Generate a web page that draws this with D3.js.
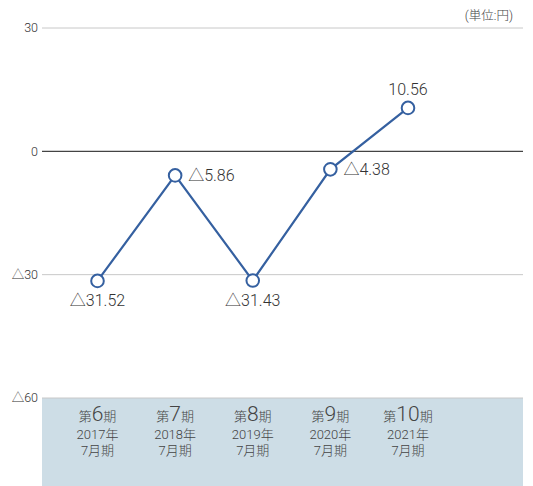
<!DOCTYPE html>
<html><head><meta charset="utf-8">
<script src="https://cdn.jsdelivr.net/npm/d3@7"></script>
<style>body{margin:0;background:#fff;}svg{display:block;font-family:Roboto,"Noto Sans CJK JP",sans-serif;font-weight:300;}</style>
</head><body>
<svg id="c" width="533" height="486"></svg>
<script>
const periods = ["第6期","第7期","第8期","第9期","第10期"];
const periodNums = ["6","7","8","9","10"];
const years = ["2017年","2018年","2019年","2020年","2021年"];
const months = ["7月期","7月期","7月期","7月期","7月期"];
const values = [-31.52, -5.86, -31.43, -4.38, 10.56];
const valueLabels = ["△31.52","△5.86","△31.43","△4.38","10.56"];
const labelPos = ["below","right","below","right","above"];
const yTicks = [30, 0, -30, -60];
const yTickLabels = ["30","0","△30","△60"];
const unitLabel = "(単位:円)";

const svg = d3.select("#c");
const left = 42, right = 523;
const y = d3.scaleLinear().domain([-60, 30]).range([398, 28]);
const xs = d3.scalePoint().domain(periods).range([97.5, 408]);

// band
svg.append("rect").attr("x", left).attr("y", y(-60)).attr("width", right-left).attr("height", 486 - y(-60)).attr("fill", "#cddde6");

// grid
yTicks.forEach((t,i)=>{
  svg.append("line").attr("x1", left).attr("x2", right).attr("y1", y(t)).attr("y2", y(t))
    .attr("stroke", t===0 ? "#444" : "#c8c8c8").attr("stroke-width", t===0?1.2:1);
  svg.append("text").attr("x", 38).attr("y", y(t)).attr("dy","0.35em").attr("text-anchor","end")
    .attr("font-size", 12.5).attr("fill","#333").text(yTickLabels[i]);
});

svg.append("text").attr("x", 513).attr("y", 20).attr("text-anchor","end").attr("font-size",12.5).attr("fill","#444").text(unitLabel);

// line
const line = d3.line().x((d,i)=>xs(periods[i])).y(d=>y(d));
svg.append("path").datum(values).attr("d", line).attr("fill","none").attr("stroke","#3560a0").attr("stroke-width",2.2);
svg.selectAll("circle.pt").data(values).join("circle").attr("cx",(d,i)=>xs(periods[i])).attr("cy",d=>y(d))
  .attr("r",6.3).attr("fill","#fff").attr("stroke","#3560a0").attr("stroke-width",2);

// value labels
values.forEach((v,i)=>{
  const t = svg.append("text").attr("font-size",16).attr("fill","#333").text(valueLabels[i]);
  const cx = xs(periods[i]), cy = y(v);
  if (labelPos[i]==="below") t.attr("x", cx).attr("y", cy+25).attr("text-anchor","middle");
  else if (labelPos[i]==="right") t.attr("x", cx+13).attr("y", cy+6).attr("text-anchor","start");
  else t.attr("x", cx).attr("y", cy-13).attr("text-anchor","middle");
});

// category labels
periods.forEach((p,i)=>{
  const cx = xs(p);
  const t = svg.append("text").attr("x", cx).attr("y", 421).attr("text-anchor","middle").attr("fill","#444");
  t.append("tspan").attr("font-size",13).text("第");
  t.append("tspan").attr("font-size",21).text(periodNums[i]);
  t.append("tspan").attr("font-size",13).text("期");
  svg.append("text").attr("x", cx).attr("y", 439).attr("text-anchor","middle").attr("font-size",13).attr("fill","#444").text(years[i]);
  svg.append("text").attr("x", cx).attr("y", 455).attr("text-anchor","middle").attr("font-size",13).attr("fill","#444").text(months[i]);
});
</script>
</body></html>
